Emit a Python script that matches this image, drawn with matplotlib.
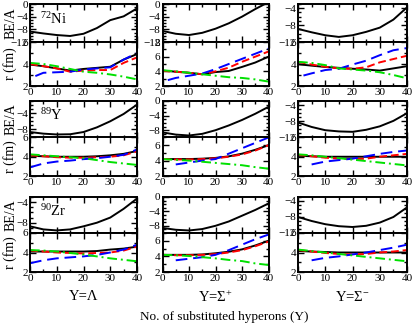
import matplotlib
matplotlib.use("Agg")
import matplotlib.pyplot as plt
from matplotlib.ticker import MultipleLocator

plt.rcParams['font.family'] = ['Liberation Serif', 'DejaVu Serif']
plt.rcParams['mathtext.fontset'] = 'custom'
plt.rcParams['mathtext.rm'] = 'Liberation Serif'
plt.rcParams['mathtext.it'] = 'Liberation Serif'

# ---------------- data ----------------
x = [0, 5, 10, 15, 20, 25, 30, 35, 40]
x_blue_a = [2, 5, 10, 15, 20, 25, 30, 35, 40]
x_blue_b = [0, 5, 10, 15, 20, 25, 30, 35, 40]
x_blue_c = [5, 10, 15, 20, 25, 30, 35, 40]

nuclei = ["$^{72}$Ni", "$^{89}$Y", "$^{90}$Zr"]
hyperons = ["Y=\u039b", "Y=\u03a3$^{+}$", "Y=\u03a3$^{-}$"]

# 72Ni
ni_lam_be = [-8.7, -9.3, -9.8, -10.1, -9.4, -7.6, -5.1, -3.9, -1.4]
ni_lam_black = [3.95, 3.8, 3.6, 3.4, 3.55, 3.65, 3.75, 4.4, 4.9]
ni_lam_red = [4.0, 3.8, 3.6, 3.3, 3.4, 3.45, 3.45, 4.1, 4.6]
ni_lam_blue = [2.9, 3.2, 3.25, 3.3, 3.5, 3.6, 3.7, 4.4, 5.0]
ni_lam_green = [4.1, 4.0, 3.8, 3.55, 3.3, 3.2, 3.05, 2.85, 2.6]

ni_sp_be = [-8.5, -9.4, -9.8, -9.1, -7.8, -6.1, -4.0, -1.6, 0.6]
ni_sp_black = [4.1, 3.95, 3.8, 3.6, 3.9, 4.05, 4.6, 5.2, 6.0]
ni_sp_red = [4.05, 3.95, 3.8, 3.6, 4.0, 4.5, 5.3, 6.0, 6.7]
ni_sp_blue = [2.8, 3.1, 3.4, 3.7, 4.3, 5.0, 5.7, 6.4, 7.1]
ni_sp_green = [4.15, 4.0, 3.8, 3.6, 3.4, 3.2, 3.1, 2.9, 2.6]

ni_sm_be = [-8.9, -9.7, -10.4, -10.8, -10.4, -9.6, -8.6, -6.7, -3.8]
ni_sm_black = [3.98, 3.85, 3.73, 3.65, 3.57, 3.5, 3.4, 3.6, 3.8]
ni_sm_red = [4.2, 3.95, 3.75, 3.6, 3.57, 3.7, 4.15, 4.45, 4.75]
ni_sm_blue = [2.95, 3.15, 3.45, 3.57, 3.95, 4.3, 4.8, 5.25, 5.45]
ni_sm_green = [4.2, 4.1, 3.9, 3.6, 3.5, 3.4, 3.25, 3.0, 2.7]

# 89Y
y_lam_be = [-8.65, -9.05, -9.25, -9.2, -8.65, -7.5, -6.0, -4.2, -1.9]
y_lam_black = [4.1, 4.05, 4.0, 4.0, 4.0, 4.05, 4.15, 4.3, 4.6]
y_lam_red = [4.15, 4.05, 3.95, 3.9, 3.9, 3.95, 4.0, 4.15, 4.55]
y_lam_blue = [2.9, 3.3, 3.5, 3.6, 3.75, 3.85, 4.0, 4.2, 4.75]
y_lam_green = [4.25, 4.15, 4.05, 3.95, 3.85, 3.65, 3.45, 3.3, 3.15]

y_sp_be = [-8.6, -9.2, -9.45, -9.0, -8.0, -6.7, -5.2, -3.5, -1.6]
y_sp_black = [4.2, 4.2, 4.2, 4.25, 4.35, 4.55, 4.9, 5.4, 6.0]
y_sp_red = [4.2, 4.15, 4.15, 4.2, 4.3, 4.5, 4.8, 5.3, 6.0]
y_sp_blue = [3.5, 3.75, 4.0, 4.2, 4.9, 5.6, 6.3, 7.0]
y_sp_green = [4.2, 4.1, 4.0, 3.85, 3.7, 3.55, 3.4, 3.15, 2.95]

y_sm_be = [-8.3, -9.4, -10.2, -10.5, -10.6, -10.1, -9.25, -7.9, -6.0]
y_sm_black = [4.1, 4.05, 4.0, 4.0, 4.0, 4.0, 4.0, 4.0, 4.0]
y_sm_red = [4.2, 4.05, 3.9, 3.8, 3.75, 3.8, 4.0, 4.15, 4.3]
y_sm_blue = [3.2, 3.5, 3.65, 3.8, 4.05, 4.3, 4.5, 4.65]
y_sm_green = [4.25, 4.15, 4.0, 3.85, 3.7, 3.55, 3.4, 3.25, 3.1]

# 90Zr
zr_lam_be = [-8.7, -9.3, -9.5, -9.3, -8.7, -8.0, -7.0, -5.3, -3.3]
zr_lam_black = [4.1, 4.1, 4.1, 4.1, 4.1, 4.15, 4.3, 4.4, 4.6]
zr_lam_red = [4.2, 4.1, 4.0, 3.95, 3.9, 3.95, 4.0, 4.2, 4.6]
zr_lam_blue = [2.9, 3.2, 3.4, 3.5, 3.6, 3.75, 4.0, 4.3, 4.8]
zr_lam_green = [4.25, 4.2, 4.1, 3.95, 3.8, 3.6, 3.4, 3.25, 3.1]

zr_sp_be = [-8.6, -9.1, -9.3, -8.9, -8.0, -6.8, -5.2, -3.6, -1.8]
zr_sp_black = [4.2, 4.2, 4.2, 4.25, 4.4, 4.6, 4.9, 5.4, 6.0]
zr_sp_red = [4.2, 4.15, 4.15, 4.2, 4.3, 4.5, 4.8, 5.3, 5.9]
zr_sp_blue = [3.5, 3.7, 3.9, 4.2, 4.8, 5.5, 6.2, 6.8]
zr_sp_green = [4.2, 4.15, 4.05, 3.9, 3.75, 3.55, 3.4, 3.1, 2.9]

zr_sm_be = [-8.0, -9.0, -9.8, -10.3, -10.5, -10.2, -9.4, -8.0, -5.6]
zr_sm_black = [4.15, 4.1, 4.05, 4.0, 4.0, 4.0, 4.0, 4.0, 4.0]
zr_sm_red = [4.25, 4.1, 3.95, 3.85, 3.8, 3.85, 4.0, 4.1, 4.25]
zr_sm_blue = [3.2, 3.45, 3.6, 3.8, 4.0, 4.25, 4.5, 4.8]
zr_sm_green = [4.3, 4.15, 4.0, 3.85, 3.7, 3.55, 3.4, 3.25, 3.1]

panels = [
    [(ni_lam_be, ni_lam_black, ni_lam_red, x_blue_a, ni_lam_blue, ni_lam_green),
     (ni_sp_be, ni_sp_black, ni_sp_red, x_blue_a, ni_sp_blue, ni_sp_green),
     (ni_sm_be, ni_sm_black, ni_sm_red, x_blue_a, ni_sm_blue, ni_sm_green)],
    [(y_lam_be, y_lam_black, y_lam_red, x_blue_b, y_lam_blue, y_lam_green),
     (y_sp_be, y_sp_black, y_sp_red, x_blue_c, y_sp_blue, y_sp_green),
     (y_sm_be, y_sm_black, y_sm_red, x_blue_c, y_sm_blue, y_sm_green)],
    [(zr_lam_be, zr_lam_black, zr_lam_red, x_blue_b, zr_lam_blue, zr_lam_green),
     (zr_sp_be, zr_sp_black, zr_sp_red, x_blue_c, zr_sp_blue, zr_sp_green),
     (zr_sm_be, zr_sm_black, zr_sm_red, x_blue_c, zr_sm_blue, zr_sm_green)],
]

be_limits = [[(-12, 0), (-12, 0), (-12, -3)],
             [(-10, -1), (-10, 0), (-12, -3)],
             [(-10, -3), (-10, 0), (-12, -3)]]
r_limits = [[(2, 6), (2, 8), (2, 6)],
            [(2, 6), (2, 7), (2, 6)],
            [(2, 6), (2, 7), (2, 6)]]

# ---------------- layout ----------------
W, H = 415, 325
fig = plt.figure(figsize=(W / 100, H / 100), dpi=100)

col_x = [(30, 137), (162.5, 268.5), (298, 407)]
row_y = [(4, 42, 86), (101, 137.5, 176), (197, 233, 272)]

def add_ax(x0, x1, y0, y1):
    return fig.add_axes([x0 / W, 1 - y1 / H, (x1 - x0) / W, (y1 - y0) / H])

def style(ax):
    for s in ax.spines.values():
        s.set_linewidth(1.4)
    ax.tick_params(which='both', direction='in', top=True, right=True,
                   labelsize=8, pad=1.5, width=1.0)
    ax.tick_params(which='major', length=4)
    ax.tick_params(which='minor', length=2)
    ax.set_xlim(0, 40)
    ax.xaxis.set_major_locator(MultipleLocator(10))
    ax.xaxis.set_minor_locator(MultipleLocator(5))

lw = 1.4
for i in range(3):
    for j in range(3):
        be, blk, red, xb, blu, grn = panels[i][j]
        x0, x1 = col_x[j]
        yt, ym, yb = row_y[i]
        a1 = add_ax(x0, x1, yt, ym)
        a2 = add_ax(x0, x1, ym, yb)
        style(a1)
        style(a2)
        a1.plot(x, be, color='black', lw=lw)
        a1.set_ylim(*be_limits[i][j])
        a1.yaxis.set_major_locator(MultipleLocator(4))
        a1.yaxis.set_minor_locator(MultipleLocator(1))
        a1.tick_params(labelbottom=False)

        a2.plot(x, blk, color='black', lw=lw)
        a2.plot(x, red, color='red', lw=lw, dashes=(4, 2))
        a2.plot(xb, blu, color='blue', lw=lw, dashes=(6, 3))
        a2.plot(x, grn, color='#00e000', lw=lw, dashes=(5, 2, 1, 2))
        a2.set_ylim(*r_limits[i][j])
        a2.yaxis.set_major_locator(MultipleLocator(2))
        a2.yaxis.set_minor_locator(MultipleLocator(1))

        if j == 0:
            fig.text(11 / W, 1 - (yt + ym) / 2 / H, "BE/A", rotation=90,
                     ha='center', va='center', fontsize=10)
            fig.text(10 / W, 1 - (ym + yb) / 2 / H, "r (fm)", rotation=90,
                     ha='center', va='center', fontsize=10)
            a1.text(0.09, 0.82, nuclei[i], transform=a1.transAxes,
                    fontsize=10.5, va='top', ha='left')
        if i == 2:
            fig.text((x0 + x1) / 2 / W, 1 - 297 / H, hyperons[j],
                     ha='center', va='center', fontsize=10.5)

fig.text(224 / W, 1 - 317 / H, "No. of substituted hyperons (Y)",
         ha='center', va='center', fontsize=9.5)

fig.savefig("out.png", dpi=100)
